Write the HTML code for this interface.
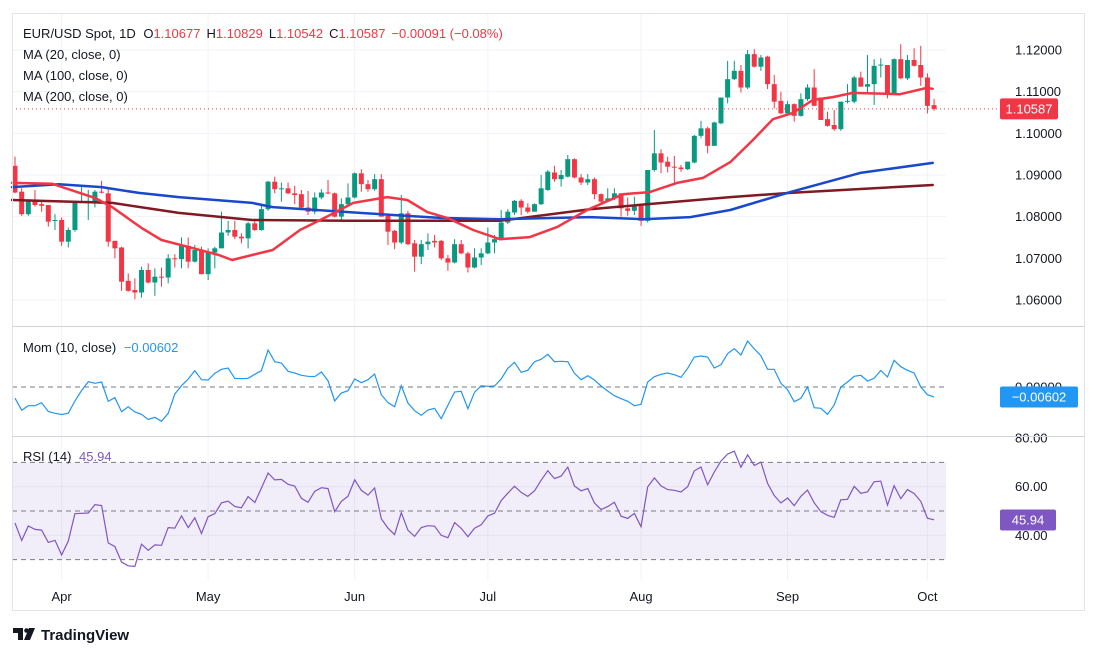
<!DOCTYPE html>
<html><head><meta charset="utf-8"><style>
html,body{margin:0;padding:0;background:#fff;}
svg{display:block;font-family:"Liberation Sans",sans-serif;}
</style></head><body>
<svg id="c" width="1098" height="656" viewBox="0 0 1098 656">
  <rect x="0" y="0" width="1098" height="656" fill="#fff"/>
  <g id="grid"></g>
  <g id="rsiBand"></g>
  <g id="candles"></g>
  <g id="mas"></g>
  <g id="ind"></g>
  <g id="axes"></g>
  <rect x="12.5" y="13.5" width="1072" height="597" fill="none" stroke="#e0e3eb"/>
  <line x1="12" y1="326.5" x2="1085" y2="326.5" stroke="#d1d4dc"/>
  <line x1="12" y1="436.5" x2="1085" y2="436.5" stroke="#d1d4dc"/>
  <text x="23" y="38" font-size="13" fill="#131722">EUR/USD Spot, 1D <tspan dx="4">O</tspan><tspan fill="#f23645">1.10677</tspan><tspan dx="6">H</tspan><tspan fill="#f23645">1.10829</tspan><tspan dx="6">L</tspan><tspan fill="#f23645">1.10542</tspan><tspan dx="6">C</tspan><tspan fill="#f23645">1.10587</tspan><tspan dx="6" fill="#f23645">−0.00091 (−0.08%)</tspan></text>
  <text x="23" y="59" font-size="13" fill="#131722">MA (20, close, 0)</text>
  <text x="23" y="80" font-size="13" fill="#131722">MA (100, close, 0)</text>
  <text x="23" y="101" font-size="13" fill="#131722">MA (200, close, 0)</text>
  <text x="23" y="352" font-size="13" fill="#131722">Mom (10, close) <tspan dx="4" fill="#2196f3">−0.00602</tspan></text>
  <text x="23" y="461" font-size="13" fill="#131722">RSI (14) <tspan dx="4" fill="#7e57c2">45.94</tspan></text>
  <g>
    <path d="M13 628h10v12h-5v-7h-5z" fill="#131722"/>
    <circle cx="26.5" cy="630.5" r="2.3" fill="#131722"/>
    <path d="M29 628h6l-5 12h-6z" fill="#131722"/>
    <text x="41" y="640" font-size="15" fill="#131722" font-weight="bold">TradingView</text>
  </g>
</svg>
<script>
const opens=[1.0922,1.0860,1.0806,1.0838,1.0830,1.0828,1.0790,1.0792,1.0740,1.0768,1.0836,1.0836,1.0836,1.0860,1.0856,1.0742,1.0726,1.0646,1.0624,1.0618,1.0672,1.0642,1.0656,1.0654,1.0700,1.0698,1.0730,1.0692,1.0720,1.0662,1.0714,1.0724,1.0762,1.0768,1.0752,1.0748,1.0784,1.0768,1.0818,1.0884,1.0866,1.0868,1.0856,1.0854,1.0822,1.0812,1.0846,1.0858,1.0856,1.0800,1.0830,1.0846,1.0904,1.0878,1.0866,1.0890,1.0802,1.0766,1.0738,1.0808,1.0736,1.0704,1.0734,1.0742,1.0742,1.0700,1.0690,1.0734,1.0712,1.0678,1.0702,1.0712,1.0738,1.0746,1.0786,1.0810,1.0838,1.0822,1.0812,1.0830,1.0864,1.0906,1.0890,1.0896,1.0938,1.0894,1.0882,1.0890,1.0854,1.0838,1.0844,1.0856,1.0820,1.0814,1.0826,1.0790,1.0912,1.0952,1.0932,1.0920,1.0918,1.0914,1.0930,1.0994,1.1012,1.0970,1.1024,1.1086,1.1130,1.1150,1.1110,1.1190,1.1160,1.1184,1.1118,1.1078,1.1048,1.1070,1.1042,1.1082,1.1110,1.1086,1.1034,1.1020,1.1010,1.1076,1.1076,1.1134,1.1112,1.1118,1.1164,1.1164,1.1092,1.1178,1.1132,1.1176,1.1164,1.1134,1.10677];
const highs=[1.0944,1.0868,1.0842,1.0864,1.0836,1.0828,1.0806,1.0798,1.0774,1.0838,1.0876,1.0864,1.0864,1.0886,1.0866,1.0742,1.0728,1.0664,1.0652,1.0680,1.0688,1.0676,1.0678,1.0710,1.0710,1.0750,1.0750,1.0732,1.0728,1.0724,1.0728,1.0812,1.0790,1.0790,1.0760,1.0788,1.0790,1.0828,1.0886,1.0896,1.0882,1.0882,1.0874,1.0864,1.0862,1.0858,1.0866,1.0888,1.0858,1.0844,1.0880,1.0906,1.0914,1.0888,1.0902,1.0902,1.0802,1.0768,1.0852,1.0814,1.0744,1.0744,1.0760,1.0756,1.0744,1.0708,1.0746,1.0744,1.0716,1.0724,1.0724,1.0774,1.0756,1.0816,1.0818,1.0840,1.0842,1.0832,1.0832,1.0900,1.0912,1.0922,1.0912,1.0948,1.0940,1.0902,1.0902,1.0894,1.0856,1.0868,1.0868,1.0856,1.0846,1.0848,1.0826,1.0912,1.1008,1.0962,1.0944,1.0946,1.0924,1.0932,1.0996,1.1030,1.1016,1.1028,1.1086,1.1174,1.1174,1.1164,1.1200,1.1202,1.1188,1.1186,1.1140,1.1100,1.1078,1.1072,1.1096,1.1118,1.1154,1.1086,1.1052,1.1056,1.1076,1.1118,1.1138,1.1148,1.1188,1.1178,1.1180,1.1164,1.1180,1.1214,1.1188,1.1204,1.1210,1.1144,1.10829];
const lows=[1.0856,1.0802,1.0802,1.0824,1.0812,1.0776,1.0768,1.0730,1.0726,1.0764,1.0832,1.0792,1.0822,1.0856,1.0728,1.0700,1.0622,1.0620,1.0602,1.0606,1.0640,1.0610,1.0632,1.0640,1.0678,1.0676,1.0676,1.0690,1.0662,1.0648,1.0676,1.0724,1.0754,1.0746,1.0736,1.0724,1.0766,1.0766,1.0814,1.0856,1.0836,1.0854,1.0830,1.0820,1.0804,1.0806,1.0842,1.0854,1.0798,1.0788,1.0828,1.0844,1.0860,1.0860,1.0862,1.0800,1.0732,1.0722,1.0734,1.0732,1.0668,1.0686,1.0720,1.0726,1.0696,1.0670,1.0688,1.0710,1.0666,1.0676,1.0684,1.0710,1.0712,1.0744,1.0782,1.0804,1.0804,1.0808,1.0812,1.0828,1.0862,1.0884,1.0872,1.0894,1.0892,1.0876,1.0876,1.0842,1.0830,1.0836,1.0840,1.0800,1.0802,1.0804,1.0778,1.0786,1.0908,1.0904,1.0906,1.0882,1.0908,1.0912,1.0928,1.0988,1.0952,1.0970,1.1022,1.1072,1.1128,1.1098,1.1106,1.1158,1.1150,1.1106,1.1060,1.1046,1.1044,1.1028,1.1040,1.1078,1.1066,1.1032,1.1016,1.1006,1.1006,1.1072,1.1072,1.1112,1.1096,1.1068,1.1134,1.1084,1.1092,1.1130,1.1128,1.1160,1.1114,1.1048,1.10542];
const closes=[1.0858,1.0806,1.0838,1.0828,1.0826,1.0788,1.0792,1.0740,1.0768,1.0836,1.0837,1.0838,1.0860,1.0858,1.0740,1.0724,1.0644,1.0622,1.0618,1.0672,1.0642,1.0656,1.0654,1.0700,1.0698,1.0732,1.0692,1.0720,1.0662,1.0714,1.0724,1.0762,1.0768,1.0752,1.0748,1.0784,1.0768,1.0818,1.0884,1.0866,1.0868,1.0856,1.0852,1.0822,1.0812,1.0846,1.0858,1.0856,1.0800,1.0830,1.0846,1.0904,1.0878,1.0866,1.0890,1.0800,1.0764,1.0738,1.0808,1.0734,1.0704,1.0734,1.0740,1.0738,1.0700,1.0690,1.0734,1.0712,1.0678,1.0702,1.0712,1.0738,1.0746,1.0786,1.0812,1.0838,1.0822,1.0812,1.0830,1.0868,1.0908,1.0890,1.0900,1.0938,1.0894,1.0882,1.0890,1.0854,1.0836,1.0844,1.0856,1.0820,1.0814,1.0826,1.0790,1.0912,1.0952,1.0930,1.0920,1.0918,1.0914,1.0932,1.0994,1.1012,1.0970,1.1026,1.1086,1.1130,1.1150,1.1110,1.1190,1.1160,1.1182,1.1118,1.1076,1.1048,1.1070,1.1042,1.1082,1.1110,1.1066,1.1032,1.1018,1.1010,1.1076,1.1078,1.1134,1.1112,1.1118,1.1162,1.1165,1.1092,1.1178,1.1132,1.1176,1.1162,1.1134,1.1066,1.10587];
const preCloses=[1.0840,1.0860,1.0850,1.0880,1.0870,1.0900,1.0890,1.0920,1.0910,1.0940,1.0930,1.0950,1.0935,1.0945,1.0925,1.0945,1.0950,1.0940,1.0920,1.0935,1.0950,1.0905,1.0925,1.0920];
const ma20=[[-0.5,1.0881],[5.6,1.0879],[12,1.0845],[14.6,1.0823],[19,1.0773],[22,1.0744],[26.6,1.0725],[30.6,1.0708],[32.6,1.0696],[35.6,1.0708],[38.7,1.0720],[42.8,1.0768],[46.8,1.0800],[50.8,1.0833],[55.9,1.0847],[58.9,1.0840],[61.9,1.0811],[64.9,1.0797],[68.8,1.0768],[72.8,1.0746],[77.3,1.0751],[81.4,1.0775],[85.9,1.0816],[91.3,1.0854],[95.3,1.0859],[99.4,1.0881],[103.3,1.0893],[107.4,1.0931],[110.8,1.0984],[113.8,1.1034],[116.8,1.1049],[119.8,1.1080],[122.8,1.1087],[125.8,1.1097],[132.9,1.1094],[136.9,1.1109],[137.8,1.1107]];
const ma100=[[-0.5,1.0871],[6.6,1.0878],[13,1.0871],[18.6,1.0857],[24.6,1.0847],[35.6,1.0833],[38.7,1.0823],[51.8,1.0809],[63.8,1.0797],[72.8,1.0794],[86.3,1.0799],[94.3,1.0794],[101.4,1.0799],[107.4,1.0816],[116.4,1.0859],[126.9,1.0905],[137.8,1.0929]];
const ma200=[[-0.5,1.0840],[14.6,1.0833],[24.6,1.0809],[35.6,1.0792],[50,1.0790],[72.8,1.0790],[86.3,1.0818],[107.4,1.0847],[116.4,1.0857],[137.8,1.0876]];
const priceTicks=[1.12,1.11,1.10,1.09,1.08,1.07,1.06];
const priceTickLabels=["1.12000","1.11000","1.10000","1.09000","1.08000","1.07000","1.06000"];
const rsiTicks=[80,60,40];
const rsiTickLabels=["80.00","60.00","40.00"];
const monthLabels=["Apr","May","Jun","Jul","Aug","Sep","Oct"];
const monthIdx=[7,29,51,71,94,116,137];

const NS="http://www.w3.org/2000/svg";
const PL=12,PR=946;
const xS=i=>15+6.66*i;
const yP=p=>50+(1.12-p)*4166.7;
const yM=m=>387-m*1667;
const yR=r=>511-(r-50)*2.43;
function mk(parent,tag,attrs){const e=document.createElementNS(NS,tag);for(const k in attrs)e.setAttribute(k,attrs[k]);document.getElementById(parent).appendChild(e);return e;}

priceTicks.forEach((p,i)=>{
  const l=mk('grid','line',{x1:PL,x2:PR,y1:yP(p),y2:yP(p),stroke:'#f0f3fa'});
  
  
  const t=mk('axes','text',{x:1015,y:yP(p)+4.5,'font-size':13,fill:'#131722'});
  t.textContent=priceTickLabels[i];
  
  
});
monthIdx.forEach((m,i)=>{
  const l=mk('grid','line',{x1:xS(m),x2:xS(m),y1:14,y2:580,stroke:'#f0f3fa'});
  
  
  const t=mk('axes','text',{x:xS(m),y:601,'font-size':13,fill:'#131722','text-anchor':'middle'});
  t.textContent=monthLabels[i];
  
  
});
const band=mk('rsiBand','rect',{x:PL,y:yR(70),width:PR-PL,height:yR(30)-yR(70),fill:'#7e57c2','fill-opacity':0.1});


[60,40].forEach(r=>{const l=mk('rsiBand','line',{x1:PL,x2:PR,y1:yR(r),y2:yR(r),stroke:'#e4e0ee'});
  
  });
[70,50,30].forEach(r=>{const l=mk('rsiBand','line',{x1:PL,x2:PR,y1:yR(r),y2:yR(r),stroke:'#787b86','stroke-dasharray':'5,4'});
  
  });
const zl=mk('ind','line',{x1:PL,x2:PR,y1:yM(0),y2:yM(0),stroke:'#787b86','stroke-dasharray':'5,4'});


rsiTicks.forEach((r,i)=>{const t=mk('axes','text',{x:1015,y:yR(r)+4.5,'font-size':13,fill:'#131722'});
  t.textContent=rsiTickLabels[i];
  
  });
const mt=mk('axes','text',{x:1015,y:yM(0)+4.5,'font-size':13,fill:'#131722'});
mt.textContent='0.00000';



closes.forEach((c,i)=>{
  const o=opens[i],up=c>=o,col=up?'#089981':'#f23645',x=xS(i);
  const w=mk('candles','line',{x1:x,x2:x,y1:yP(highs[i]),y2:yP(lows[i]),stroke:col,'stroke-width':1});
  
  
  const top=yP(Math.max(o,c)),bot=yP(Math.min(o,c));
  const b=mk('candles','rect',{x:x-2.5,y:top,width:5,height:Math.max(1,bot-top),fill:col});
  
  
});
function maLine(arr,col,name){
  const d=arr.map((p,i)=>(i?'L':'M')+Math.max(PL,xS(p[0])).toFixed(1)+' '+yP(p[1]).toFixed(1)).join(' ');
  const e=mk('mas','path',{d:d,fill:'none',stroke:col,'stroke-width':2.5,'stroke-linejoin':'round','stroke-linecap':'round'});
  
  
}
maLine(ma200,'#801922','ma200-line');
maLine(ma100,'#1848cc','ma100-line');
maLine(ma20,'#f23645','ma20-line');
const cl=closes[closes.length-1];
const dl=mk('mas','line',{x1:PL,x2:1000,y1:yP(cl),y2:yP(cl),stroke:'#f23645','stroke-dasharray':'1,3'});



const all=preCloses.concat(closes),P=preCloses.length;
const mom=closes.map((c,i)=>c-all[i+P-10]);
let ag=0,al=0;const rsi=[];
for(let k=1;k<all.length;k++){
  const d=all[k]-all[k-1],g=Math.max(d,0),l=Math.max(-d,0);
  if(k<=14){ag+=g/14;al+=l/14;} else {ag=(ag*13+g)/14;al=(al*13+l)/14;}
  if(k>=P) rsi[k-P]=al===0?100:100-100/(1+ag/al);
}
const momPath=mom.map((m,i)=>(i?'L':'M')+xS(i).toFixed(1)+' '+yM(m).toFixed(1)).join(' ');
const mp=mk('ind','path',{d:momPath,fill:'none',stroke:'#2196f3','stroke-width':1.2});


const rsiPath=rsi.map((r,i)=>(i?'L':'M')+xS(i).toFixed(1)+' '+yR(r).toFixed(1)).join(' ');
const rp=mk('ind','path',{d:rsiPath,fill:'none',stroke:'#7e57c2','stroke-width':1.2});



function tag(y,w,col,txt,name){
  const r=mk('axes','rect',{x:1000,y:y-10.5,width:w,height:21,fill:col,rx:2});
  
  
  const t=mk('axes','text',{x:1000+w/2,y:y+4.5,'font-size':13,fill:'#fff','text-anchor':'middle'});
  t.textContent=txt;
  
  
}
tag(yP(cl),58,'#f23645','1.10587','last-price-label');
tag(397,78,'#2196f3','−0.00602','mom-value-label');
tag(520,56,'#7e57c2','45.94','rsi-value-label');
</script>
</body></html>
